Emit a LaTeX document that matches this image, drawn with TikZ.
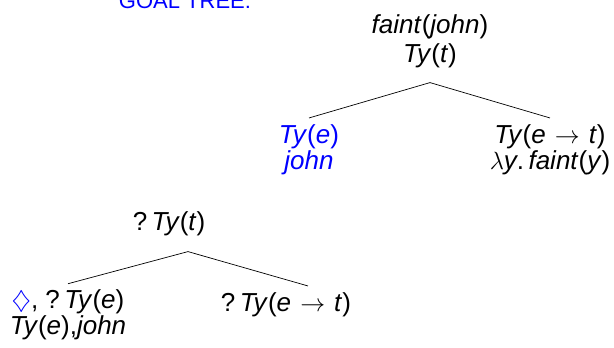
\documentclass[tikz,border=0pt]{standalone}
\usepackage{fontspec}
\setmainfont{Liberation Sans}
\usepackage{xcolor}
\usepackage{tikz}
\usetikzlibrary{positioning}
\newcommand{\tyof}[1]{\textit{Ty}(\textit{#1})}
\newcommand{\fto}{\hspace{0.35em}$\rightarrow$\hspace{0.35em}}

\begin{document}
\begin{tikzpicture}[
  x=1pt, y=-1pt,
  tnode/.style={inner sep=0pt, align=center, font=\fontsize{26}{26}\selectfont},
  edge/.style={line width=0.7pt, color=black},
  hl/.style={text=blue}
]
\useasboundingbox (0,0) rectangle (614,348);

% Title
\node[hl, anchor=base, font=\fontsize{22}{24}\selectfont] (title) at (185,9) {GOAL TREE:};

% Tree with result
\node[tnode, anchor=base] (goalroot) at (430,63) {\textit{faint}(\textit{john})\\[4pt]\tyof{t}};
\node[tnode, hl, anchor=base] (goalsubj) at (309,169) {\tyof{e}\\\textit{john}};
\node[tnode, anchor=base] (goalpred) at (550,169) {\textit{Ty}(\textit{e}\fto\textit{t})\\$\lambda$\textit{y}.\,\textit{faint}(\textit{y})};

% Tree with requirements
\node[tnode, anchor=base] (treeroot) at (169,230) {?\,\tyof{t}};
\node[tnode, anchor=base, font=\fontsize{26}{24}\selectfont] (treesubj) at (68,334) {{\color{blue}$\diamondsuit$}, ?\,\tyof{e}\\\tyof{e},\textit{john}};
\node[tnode, anchor=base] (treepred) at (286,311) {?\,\textit{Ty}(\textit{e}\fto\textit{t})};

% Edges
\draw[edge] ([yshift=6pt]goalsubj.north) -- ([yshift=-14pt]goalroot.south) -- ([yshift=6pt]goalpred.north);
\draw[edge] ([yshift=6pt]treesubj.north) -- ([shift={(19pt,-16pt)}]treeroot.south) -- ([shift={(22pt,6pt)}]treepred.north);

\end{tikzpicture}
\end{document}
